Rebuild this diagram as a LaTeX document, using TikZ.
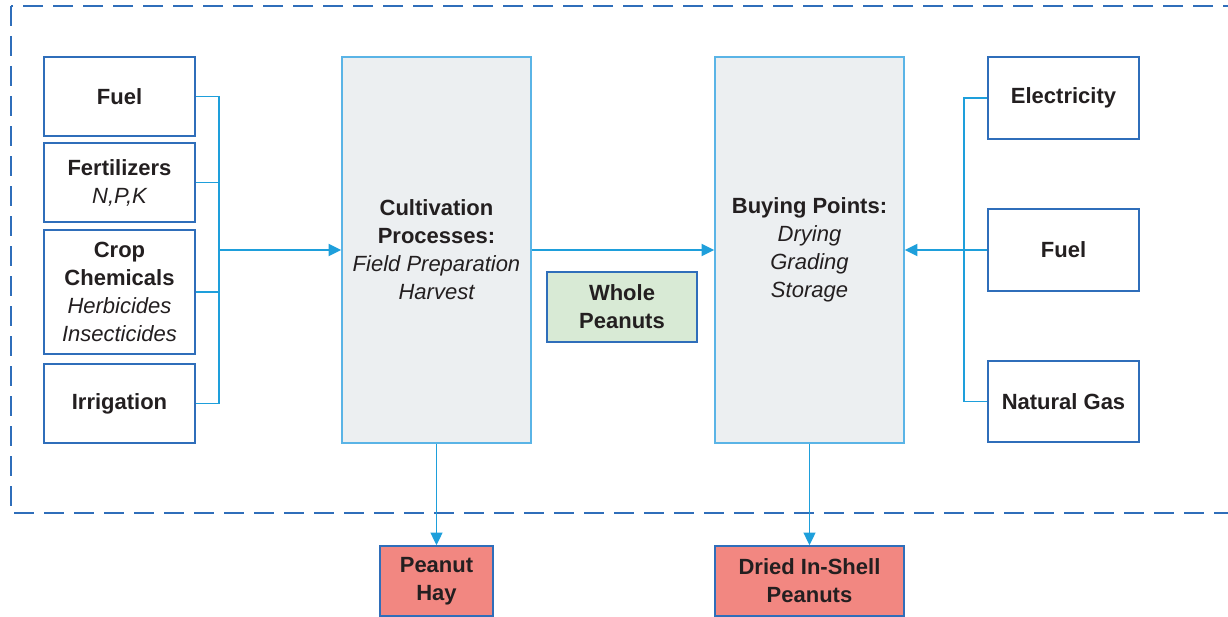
\documentclass[tikz,border=0pt]{standalone}
\usepackage{fontspec}
\setmainfont{Liberation Sans}
\usetikzlibrary{arrows.meta}
\definecolor{boxblue}{HTML}{2F6EBA}
\definecolor{linkblue}{HTML}{1E9FDB}
\definecolor{procline}{HTML}{5AB4E6}
\definecolor{procfill}{HTML}{ECEFF1}
\definecolor{prodfill}{HTML}{D8EAD5}
\definecolor{outfill}{HTML}{F28781}
\definecolor{textgray}{HTML}{231F20}
\newcommand{\itl}[1]{{\mdseries\itshape #1}}
\tikzset{
  inbox/.style={draw=boxblue, line width=1.2pt, fill=white, align=center, inner sep=2pt,
    minimum width=113.25pt, text=textgray, font=\fontsize{16.5}{21}\selectfont\bfseries},
  procbox/.style={inbox, draw=procline, fill=procfill, minimum width=141.75pt, minimum height=289.5pt},
  link/.style={draw=linkblue, line width=1.1pt},
  feed/.style={link, line width=1.5pt, -{Triangle[length=9.5pt,width=9pt]}}
}
\begin{document}
\begin{tikzpicture}[x=0.75pt, y=-0.75pt]
  \useasboundingbox (0,0) rectangle (1228,617);
  \draw[boxblue, line width=1.1pt, dash pattern=on 15pt off 7.5pt] (11,6) rectangle (1245,513); %system boundary

  %inputs, left
  \node[inbox, minimum height=59.25pt] (fuelL) at (119.5,96.5) {Fuel};
  \node[inbox, minimum height=59.25pt] (fert) at (119.5,182.5) {Fertilizers\\\itl{N,P,K}};
  \node[inbox, minimum height=93pt] (chem) at (119.5,292) {Crop\\Chemicals\\\itl{Herbicides}\\\itl{Insecticides}};
  \node[inbox, minimum height=59.25pt] (irrig) at (119.5,403.5) {Irrigation};
  \coordinate (busL) at (219,250);

  %processes
  \node[procbox] (cult) at (436.5,250) {Cultivation\\Processes:\\\itl{Field Preparation}\\\itl{Harvest}};
  \node[procbox] (buy) at (809.5,250) {Buying Points:\\\itl{Drying}\\\itl{Grading}\\\itl{Storage}};
  \node[inbox, fill=prodfill, minimum width=112.5pt, minimum height=52.5pt] (whole) at (622,307) {Whole\\Peanuts};

  %inputs, right
  \node[inbox, minimum height=61.5pt] (elec) at (1063.5,98) {Electricity};
  \node[inbox, minimum height=61.5pt] (fuelR) at (1063.5,250) {Fuel};
  \node[inbox, minimum height=60.75pt] (gas) at (1063.5,401.5) {Natural Gas};
  \coordinate (busR) at (964,250);

  %outputs
  \node[inbox, fill=outfill, minimum width=84.75pt, minimum height=52.5pt] (hay) at (436.5,581) {Peanut\\Hay};
  \node[inbox, fill=outfill, minimum width=141.75pt, minimum height=52.5pt] (dried) at (809.5,581) {Dried In-Shell\\Peanuts};

  \draw[link] (fuelL.east) -| (busL);
  \draw[link] (fert.east) -| (busL);
  \draw[link] (chem.east) -| (busL);
  \draw[link] (irrig.east) -| (busL);
  \draw[feed] (busL) -- (cult.west);
  \draw[feed] (cult.east) -- (buy.west);
  \draw[link] (elec.west) -| (busR);
  \draw[link] (gas.west) -| (busR);
  \draw[feed] (fuelR.west) -- (buy.east);
  \draw[feed, line width=1.1pt] (cult.south) -- (hay.north);
  \draw[feed, line width=1.1pt] (buy.south) -- (dried.north);
\end{tikzpicture}
\end{document}
